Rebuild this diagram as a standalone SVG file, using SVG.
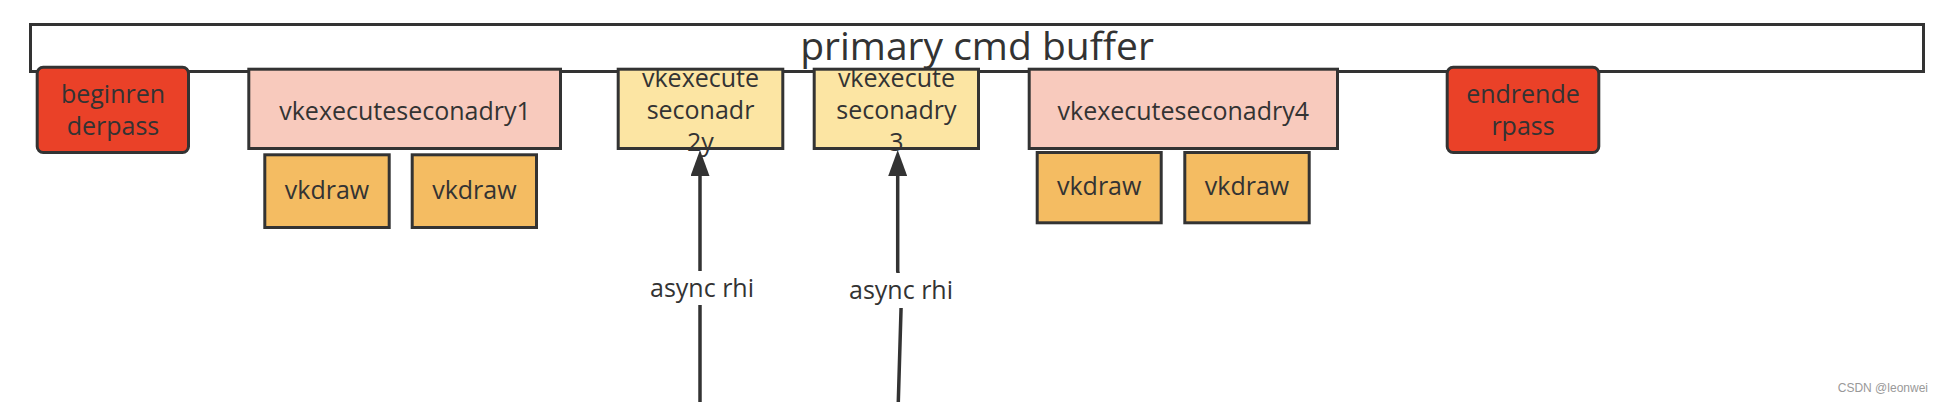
<svg xmlns="http://www.w3.org/2000/svg" width="1944" height="402" viewBox="0 0 1944 402">
<defs>
<style>
.box{stroke:#333333;stroke-width:3}
.red{fill:#EA4128}
.pink{fill:#F8CABD}
.yel{fill:#FCE5A3}
.org{fill:#F4BC62}
.t{font-family:"Open Sans","Noto Sans","Liberation Sans",sans-serif;font-size:25px;fill:#333333;text-anchor:middle}
.conn{stroke:#333333;stroke-width:3.5;fill:none}
.lbl{font-family:"Open Sans","Noto Sans","Liberation Sans",sans-serif;font-size:25px;fill:#333333;text-anchor:middle}
</style>
<marker id="ah" markerUnits="userSpaceOnUse" markerWidth="26" markerHeight="19" viewBox="0 0 26 19" refX="0" refY="9.5" orient="auto">
<path d="M0,0 L26,9.5 L0,19 Z" fill="#333333"/>
</marker>
</defs>
<rect width="1944" height="402" fill="#ffffff"/>
<g id="primary">
<rect class="box" x="30.5" y="24.5" width="1893" height="47" fill="#ffffff"/>
<text class="t" x="977" y="60" style="font-size:39px">primary cmd buffer</text>
</g>
<g id="beginrenderpass">
<rect class="box red" x="37.2" y="67.2" width="151.3" height="85.3" rx="6"/>
<text class="t" x="113" y="103">beginren</text>
<text class="t" x="113" y="135">derpass</text>
</g>
<g id="vkexec1">
<rect class="box pink" x="248.8" y="69.2" width="311.7" height="79.3"/>
<text class="t" x="405" y="120">vkexecuteseconadry1</text>
</g>
<g id="vkdraw1">
<rect class="box org" x="264.8" y="154.8" width="124.4" height="72.7"/>
<text class="t" x="327" y="199">vkdraw</text>
</g>
<g id="vkdraw2">
<rect class="box org" x="412.2" y="154.8" width="124.3" height="72.7"/>
<text class="t" x="474.4" y="199">vkdraw</text>
</g>
<g id="vkexec2">
<rect class="box yel" x="618.2" y="69.2" width="164.6" height="79.3"/>
<text class="t" x="700.5" y="87">vkexecute</text>
<text class="t" x="700.5" y="119">seconadr</text>
<text class="t" x="700.5" y="151">2y</text>
</g>
<g id="vkexec3">
<rect class="box yel" x="814.2" y="69.2" width="164.3" height="79.3"/>
<text class="t" x="896.4" y="87">vkexecute</text>
<text class="t" x="896.4" y="119">seconadry</text>
<text class="t" x="896.4" y="151">3</text>
</g>
<g id="vkdraw3">
<rect class="box org" x="1037.2" y="152.5" width="124" height="70.3"/>
<text class="t" x="1099.2" y="195">vkdraw</text>
</g>
<g id="vkdraw4">
<rect class="box org" x="1184.8" y="152.5" width="124.4" height="70.3"/>
<text class="t" x="1247" y="195">vkdraw</text>
</g>
<g id="vkexec4">
<rect class="box pink" x="1029.2" y="69.2" width="308.3" height="79.3"/>
<text class="t" x="1183.3" y="120">vkexecuteseconadry4</text>
</g>
<g id="endrenderpass">
<rect class="box red" x="1447.2" y="67.2" width="151.6" height="85.3" rx="6"/>
<text class="t" x="1523" y="103">endrende</text>
<text class="t" x="1523" y="135">rpass</text>
</g>
<g id="connectors">
<path class="conn" d="M700,402 L700,176" marker-end="url(#ah)"/>
<rect x="645" y="271" width="112" height="34" fill="#ffffff"/>
<text class="lbl" x="702" y="297">async rhi</text>
<path class="conn" d="M898.3,402 L901.6,290 L897.7,271 L897.7,176" marker-end="url(#ah)"/>
<rect x="845" y="273" width="112" height="35" fill="#ffffff"/>
<text class="lbl" x="901" y="299">async rhi</text>
</g>
<text x="1928" y="392" style="font-family:'Liberation Sans',Arial,sans-serif;font-size:12px;fill:#999999;text-anchor:end">CSDN @leonwei</text>
</svg>
